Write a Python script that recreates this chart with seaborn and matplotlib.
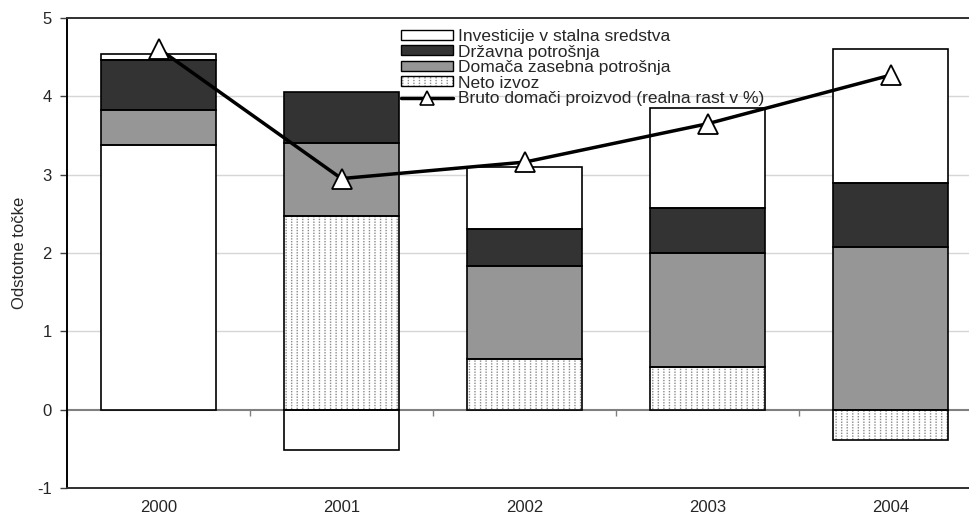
import numpy as np
import matplotlib
matplotlib.use("Agg")
import matplotlib.pyplot as plt
from matplotlib.patches import Patch
from matplotlib.lines import Line2D
from matplotlib.legend_handler import HandlerTuple
import seaborn as sns

# Contributions to real GDP growth (percentage points)
years = ["2000", "2001", "2002", "2003", "2004"]
investicije = [0.08, -0.52, 0.79, 1.28, 1.70]
drzavna = [0.63, 0.64, 0.48, 0.57, 0.82]
domaca = [0.45, 0.94, 1.18, 1.45, 2.08]
neto_izvoz = [3.38, 2.47, 0.65, 0.55, -0.39]
bdp = [4.61, 2.95, 3.16, 3.65, 4.27]
y_ticks = [-1, 0, 1, 2, 3, 4, 5]

lbl_inv = "Investicije v stalna sredstva"
lbl_drz = "Državna potrošnja"
lbl_dom = "Domača zasebna potrošnja"
lbl_neto = "Neto izvoz"
lbl_bdp = "Bruto domači proizvod (realna rast v %)"

sns.set_theme(style="white")
plt.rcParams["font.family"] = ["Liberation Sans", "DejaVu Sans"]
plt.rcParams["hatch.linewidth"] = 1.0

DARK = "#333333"
GREY = "#969696"
DOT = "#8a8a8a"
FS = 12

fig = plt.figure(figsize=(9.70, 5.26), dpi=100)
L, R, B, T = 67, 982, 488, 18
ax = fig.add_axes([L / 970, 1 - B / 526, (R - L) / 970, (B - T) / 526])

x = np.arange(len(years))
width = 0.625
pos_base = np.zeros(len(years))
neg_base = np.zeros(len(years))

# net exports drawn dotted (the 2000 segment is drawn plain)
neto_hatch = ["", "|||", "|||", "|||", "|||"]

layers = [
    (neto_izvoz, "white", True),
    (domaca, GREY, False),
    (drzavna, DARK, False),
    (investicije, "white", False),
]

for vals, face, dotted in layers:
    v = np.array(vals, dtype=float)
    bottom = np.where(v >= 0, pos_base, neg_base)
    ax.bar(x, v, bottom=bottom, width=width, color=face, edgecolor="none",
           linewidth=0, zorder=2)
    if dotted:
        for i in range(len(v)):
            if neto_hatch[i]:
                ax.bar(x[i], v[i], bottom=bottom[i], width=width, facecolor="none",
                       edgecolor=DOT, hatch=neto_hatch[i], linewidth=0, zorder=2.1)
                ax.bar(x[i], v[i], bottom=bottom[i], width=width, facecolor="none",
                       edgecolor="white", hatch="------", linewidth=0, zorder=2.2)
    ax.bar(x, v, bottom=bottom, width=width, facecolor="none", edgecolor="black",
           linewidth=1.2, zorder=2.3)
    pos_base += np.clip(v, 0, None)
    neg_base += np.clip(v, None, 0)

# GDP growth line
sns.lineplot(x=x, y=bdp, ax=ax, color="black", linewidth=2.5, marker="^",
             markersize=15, markerfacecolor="white", markeredgecolor="black",
             markeredgewidth=1.3, zorder=5, legend=False)

ax.set_xlim(-0.5, 4.5)
ax.set_ylim(-1, 5)
ax.set_yticks(y_ticks)
ax.set_yticklabels([str(t) for t in y_ticks], fontsize=FS)
ax.set_xticks(x)
ax.set_xticklabels(years, fontsize=FS)
ax.tick_params(axis="x", length=0, pad=9)
ax.tick_params(axis="y", length=5, width=1, color="#404040", pad=6, left=True)

for t in y_ticks[2:-1]:
    ax.axhline(t, color="#d6d6d6", linewidth=1.0, zorder=0.5)

ax.set_ylabel("Odstotne točke", fontsize=FS, labelpad=7)

for side in ("left", "top", "bottom"):
    ax.spines[side].set_visible(True)
    ax.spines[side].set_color("#303030")
    ax.spines[side].set_linewidth(1.4)
ax.spines["left"].set_color("black")
ax.spines["right"].set_visible(False)

# category axis crossing at zero with ticks between categories
sec = ax.secondary_xaxis(1 / 6)
sec.set_xticks(np.arange(-0.5, len(years), 1.0))
sec.set_xticklabels([])
sec.tick_params(axis="x", length=4, width=1, color="#808080", direction="out")
sec.spines["bottom"].set_color("#808080")
sec.spines["bottom"].set_linewidth(1.5)

# legend
h_inv = Patch(facecolor="white", edgecolor="black", linewidth=1.0)
h_drz = Patch(facecolor=DARK, edgecolor="black", linewidth=1.0)
h_dom = Patch(facecolor=GREY, edgecolor="black", linewidth=1.0)
h_neto = (
    Patch(facecolor="white", edgecolor="none", linewidth=0),
    Patch(facecolor="none", edgecolor=DOT, hatch="|||", linewidth=0),
    Patch(facecolor="none", edgecolor="white", hatch="------", linewidth=0),
    Patch(facecolor="none", edgecolor="black", linewidth=1.0),
)
h_bdp = Line2D([], [], color="black", linewidth=2.5, marker="^", markersize=10,
               markerfacecolor="white", markeredgecolor="black", markeredgewidth=1.2)
leg = ax.legend(
    [h_inv, h_drz, h_dom, h_neto, h_bdp],
    [lbl_inv, lbl_drz, lbl_dom, lbl_neto, lbl_bdp],
    handler_map={tuple: HandlerTuple(ndivide=1, pad=0)},
    loc="upper left", bbox_to_anchor=(401 / 970, 1 - 29 / 526),
    bbox_transform=fig.transFigure, frameon=False, fontsize=12.5,
    handlelength=3.0, handleheight=0.5, handletextpad=0.3,
    labelspacing=0.03, borderpad=0, borderaxespad=0, numpoints=1,
)
leg.set_zorder(10)

fig.savefig("out.png", dpi=100)
